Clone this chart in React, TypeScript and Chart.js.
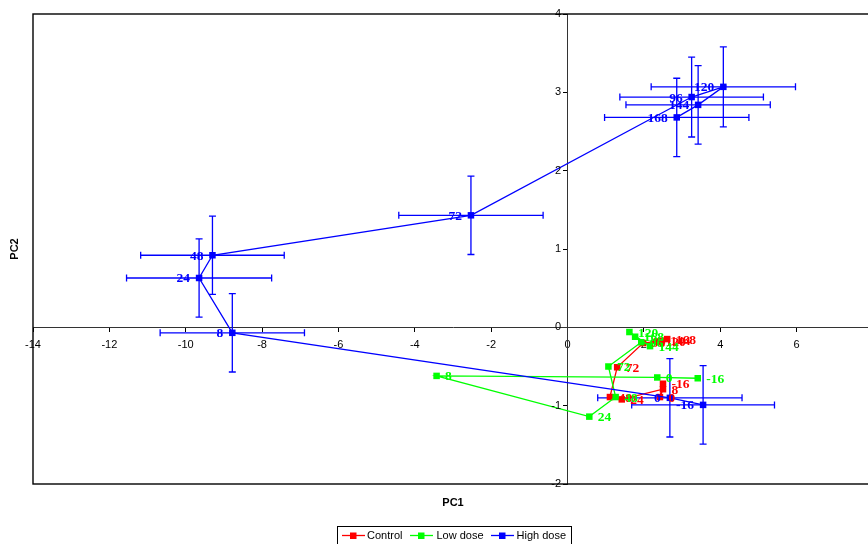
import { useEffect, useRef } from 'react';
import { Chart, registerables } from 'chart.js';

Chart.register(...registerables);

// ---- data ----
const timeLabels = ['-16', '0', '8', '24', '48', '72', '96', '120', '144', '168'];
const controlX = [2.50, 2.42, 2.50, 1.42, 1.11, 1.30, 1.98, 2.34, 2.47, 2.61];
const controlY = [-0.72, -0.89, -0.79, -0.92, -0.89, -0.51, -0.20, -0.18, -0.17, -0.15];
const lowX = [3.41, 2.35, -3.43, 0.57, 1.26, 1.07, 1.93, 1.62, 2.16, 1.77];
const lowY = [-0.65, -0.64, -0.62, -1.14, -0.89, -0.50, -0.19, -0.06, -0.24, -0.12];
const highX = [3.55, 2.68, -8.78, -9.65, -9.30, -2.53, 3.25, 4.08, 3.42, 2.86];
const highY = [-0.99, -0.90, -0.07, 0.63, 0.92, 1.43, 2.94, 3.07, 2.84, 2.68];
const highErrX = [1.87, 1.89, 1.89, 1.90, 1.88, 1.89, 1.88, 1.89, 1.89, 1.89];
const highErrY = [0.50, 0.50, 0.50, 0.50, 0.50, 0.50, 0.51, 0.51, 0.50, 0.50];
const seriesNames = ['Control', 'Low dose', 'High dose'];
const seriesColors = ['#FF0000', '#00FF00', '#0000FF'];
const xRange = [-14, 8];
const yRange = [-2, 4];
const xTitle = 'PC1';
const yTitle = 'PC2';

const toPoints = (xs: number[], ys: number[]) => xs.map((x, i) => ({ x, y: ys[i] }));

const overlay = {
  id: 'overlay',
  beforeDatasetsDraw(chart: any) {
    const { ctx } = chart;
    const xs = chart.scales.x;
    const ys = chart.scales.y;
    ctx.save();
    ctx.strokeStyle = seriesColors[2];
    ctx.lineWidth = 1.3;
    const cap = 3.5;
    highX.forEach((v, i) => {
      const px = xs.getPixelForValue(v);
      const py = ys.getPixelForValue(highY[i]);
      const x1 = xs.getPixelForValue(v - highErrX[i]);
      const x2 = xs.getPixelForValue(v + highErrX[i]);
      const y1 = ys.getPixelForValue(highY[i] + highErrY[i]);
      const y2 = ys.getPixelForValue(highY[i] - highErrY[i]);
      ctx.beginPath();
      ctx.moveTo(x1, py); ctx.lineTo(x2, py);
      ctx.moveTo(x1, py - cap); ctx.lineTo(x1, py + cap);
      ctx.moveTo(x2, py - cap); ctx.lineTo(x2, py + cap);
      ctx.moveTo(px, y1); ctx.lineTo(px, y2);
      ctx.moveTo(px - cap, y1); ctx.lineTo(px + cap, y1);
      ctx.moveTo(px - cap, y2); ctx.lineTo(px + cap, y2);
      ctx.stroke();
    });
    ctx.restore();
  },
  afterDatasetsDraw(chart: any) {
    const { ctx } = chart;
    const xs = chart.scales.x;
    const ys = chart.scales.y;
    ctx.save();
    ctx.font = "bold 13.5px 'Liberation Serif', 'DejaVu Serif', serif";
    ctx.textBaseline = 'middle';
    const groups = [
      { xv: controlX, yv: controlY, color: seriesColors[0], left: false },
      { xv: lowX, yv: lowY, color: seriesColors[1], left: false },
      { xv: highX, yv: highY, color: seriesColors[2], left: true },
    ];
    groups.forEach((g) => {
      ctx.fillStyle = g.color;
      ctx.textAlign = g.left ? 'right' : 'left';
      g.xv.forEach((v, i) => {
        const px = xs.getPixelForValue(v);
        const py = ys.getPixelForValue(g.yv[i]);
        ctx.fillText(timeLabels[i], g.left ? px - 9 : px + 8.5, py + 1);
      });
    });
    ctx.restore();
  },
  afterDraw(chart: any) {
    const { ctx, chartArea } = chart;
    const xs = chart.scales.x;
    const ys = chart.scales.y;
    ctx.save();
    // y tick labels, left of the y axis (which crosses at x = 0)
    const axisX = xs.getPixelForValue(0);
    ctx.fillStyle = '#000';
    ctx.font = "11px 'Liberation Sans', Arial, sans-serif";
    ctx.textAlign = 'right';
    ctx.textBaseline = 'middle';
    ys.ticks.forEach((t: any) => {
      ctx.fillText(String(t.label), axisX - 6.5, ys.getPixelForValue(t.value));
    });
    // frame
    ctx.strokeStyle = '#000';
    ctx.lineWidth = 1.4;
    ctx.strokeRect(chartArea.left, chartArea.top, chartArea.right - chartArea.left, chartArea.bottom - chartArea.top);
    // axis titles
    ctx.fillStyle = '#000';
    ctx.font = "bold 11px 'Liberation Sans', Arial, sans-serif";
    ctx.textAlign = 'center';
    ctx.textBaseline = 'middle';
    ctx.fillText(xTitle, (chartArea.left + chartArea.right) / 2, 503);
    ctx.save();
    ctx.translate(15, (chartArea.top + chartArea.bottom) / 2);
    ctx.rotate(-Math.PI / 2);
    ctx.fillText(yTitle, 0, 0);
    ctx.restore();
    // legend
    ctx.lineWidth = 1;
    ctx.strokeStyle = '#000';
    ctx.strokeRect(337.5, 526.5, 234, 24);
    const cy = 535.5;
    const items = [
      { x0: 342, tx: 367 },
      { x0: 410, tx: 436.5 },
      { x0: 491, tx: 516.5 },
    ];
    ctx.font = "11px 'Liberation Sans', Arial, sans-serif";
    ctx.textAlign = 'left';
    items.forEach((it, i) => {
      ctx.strokeStyle = seriesColors[i];
      ctx.lineWidth = 1.3;
      ctx.beginPath();
      ctx.moveTo(it.x0, cy);
      ctx.lineTo(it.x0 + 23, cy);
      ctx.stroke();
      ctx.fillStyle = seriesColors[i];
      ctx.fillRect(it.x0 + 8, cy - 3, 6.5, 6.5);
      ctx.fillStyle = '#000';
      ctx.fillText(seriesNames[i], it.tx, cy + 0.5);
    });
    ctx.restore();
  },
};

export default function App() {
  const ref = useRef<HTMLCanvasElement | null>(null);
  useEffect(() => {
    if (!ref.current) return;
    Chart.defaults.font.family = "'Liberation Sans', Arial, sans-serif";
    Chart.defaults.font.size = 11;
    Chart.defaults.color = '#000';
    const mk = (i: number, xs: number[], ys: number[], order: number) => ({
      label: seriesNames[i],
      data: toPoints(xs, ys),
      showLine: true,
      borderColor: seriesColors[i],
      backgroundColor: seriesColors[i],
      borderWidth: 1.3,
      pointStyle: 'rect',
      pointRadius: 4.6,
      pointHoverRadius: 4.6,
      pointBorderWidth: 0,
      tension: 0,
      order,
    });
    const chart = new Chart(ref.current, {
      type: 'scatter',
      data: {
        datasets: [
          mk(0, controlX, controlY, 3),
          mk(1, lowX, lowY, 2),
          mk(2, highX, highY, 1),
        ],
      },
      options: {
        responsive: false,
        animation: false,
        devicePixelRatio: 1,
        layout: { padding: { left: 33, top: 14, right: 27, bottom: 60 } },
        plugins: { legend: { display: false }, tooltip: { enabled: false } },
        scales: {
          x: {
            type: 'linear',
            position: { y: 0 } as any,
            min: xRange[0],
            max: xRange[1],
            ticks: { stepSize: 2, autoSkip: false, maxRotation: 0, padding: 7, color: '#000', font: { size: 11 } },
            grid: { drawOnChartArea: false, tickLength: 4, tickColor: '#000', color: '#000' },
            border: { color: '#333', width: 1 },
          },
          y: {
            type: 'linear',
            position: { x: 0 } as any,
            min: yRange[0],
            max: yRange[1],
            ticks: { stepSize: 1, autoSkip: false, display: false },
            grid: { drawOnChartArea: false, tickLength: 4, tickColor: '#000', color: '#000' },
            border: { color: '#333', width: 1 },
          },
        },
      },
      plugins: [overlay],
    });
    return () => chart.destroy();
  }, []);
  return (
    <div style={{ position: 'fixed', left: 0, top: 0, width: 868, height: 544, overflow: 'hidden', background: '#fff' }}>
      <canvas ref={ref} width={900} height={544} style={{ display: 'block' }} />
    </div>
  );
}
